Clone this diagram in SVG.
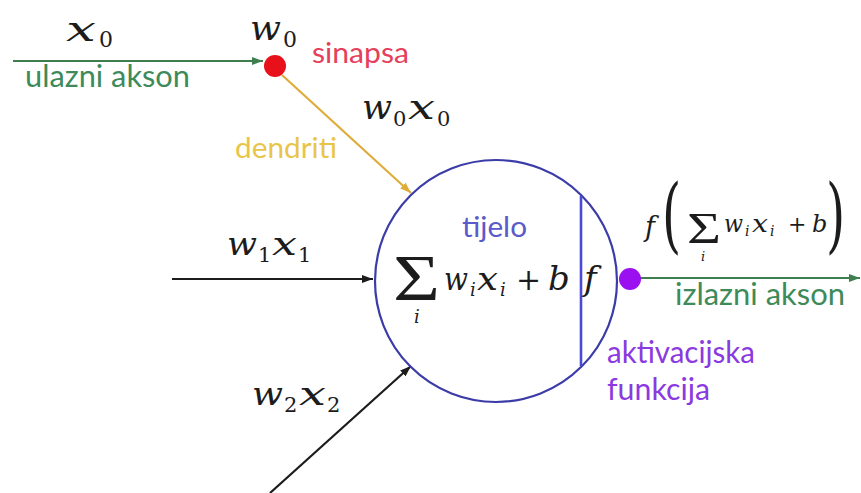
<svg xmlns="http://www.w3.org/2000/svg" width="861" height="493" viewBox="0 0 861 493">
<style>
.m{font-family:"DejaVu Serif","Liberation Serif",serif;font-style:italic;fill:#1c1c1c}
.u{font-style:normal}
.lab{font-family:Lato,"Open Sans","Liberation Sans",sans-serif}
.conn{fill:none;stroke-width:2.2}
</style>
<defs>
<marker id="ag" markerUnits="userSpaceOnUse" markerWidth="11" markerHeight="8" refX="11" refY="4" orient="auto"><path d="M0,0 L11,4 L0,8 z" fill="#3f7f4f"/></marker>
<marker id="ay" markerUnits="userSpaceOnUse" markerWidth="11" markerHeight="8" refX="11" refY="4" orient="auto"><path d="M0,0 L11,4 L0,8 z" fill="#dfac3a"/></marker>
<marker id="ak" markerUnits="userSpaceOnUse" markerWidth="11" markerHeight="8" refX="11" refY="4" orient="auto"><path d="M0,0 L11,4 L0,8 z" fill="#1c1c1c"/></marker>
</defs>
<rect width="861" height="493" fill="#ffffff"/>

<g id="connectors">
<line class="conn" x1="13" y1="61" x2="263" y2="61" stroke="#3f7f4f" marker-end="url(#ag)"/>
<line class="conn" x1="282" y1="75" x2="411" y2="193" stroke="#dfac3a" marker-end="url(#ay)"/>
<line class="conn" x1="172" y1="279" x2="373" y2="279" stroke="#1c1c1c" marker-end="url(#ak)"/>
<line class="conn" x1="270" y1="493" x2="411" y2="366" stroke="#1c1c1c" marker-end="url(#ak)"/>
<line class="conn" x1="640" y1="278" x2="860" y2="278" stroke="#3f7f4f" marker-end="url(#ag)"/>
</g>

<g id="input-x0">
<text class="m" font-size="34"><tspan x="66" y="41" textLength="30" lengthAdjust="spacingAndGlyphs">x</tspan><tspan class="u" x="99" y="47" font-size="22">0</tspan></text>
<text class="lab" x="25" y="87" font-size="30" fill="#3d8a5a" textLength="165" lengthAdjust="spacingAndGlyphs">ulazni akson</text>
</g>

<g id="synapse">
<circle cx="275" cy="66" r="11" fill="#e8101a"/>
<text class="m" font-size="34"><tspan x="250" y="40" textLength="31" lengthAdjust="spacingAndGlyphs">w</tspan><tspan class="u" x="283" y="47" font-size="22">0</tspan></text>
<text class="lab" x="312" y="63" font-size="29" fill="#e5405a" textLength="97" lengthAdjust="spacingAndGlyphs">sinapsa</text>
</g>

<g id="dendrite-label">
<text class="m" font-size="34"><tspan x="362" y="119" textLength="30" lengthAdjust="spacingAndGlyphs">w</tspan><tspan class="u" x="393" y="126" font-size="21">0</tspan><tspan x="408" y="119" textLength="27" lengthAdjust="spacingAndGlyphs">x</tspan><tspan class="u" x="437" y="126" font-size="21">0</tspan></text>
<text class="lab" x="235" y="158" font-size="29" fill="#e8c548" textLength="102" lengthAdjust="spacingAndGlyphs">dendriti</text>
</g>

<g id="input-x1">
<text class="m" font-size="32"><tspan x="227" y="255" textLength="30" lengthAdjust="spacingAndGlyphs">w</tspan><tspan class="u" x="258" y="262" font-size="21">1</tspan><tspan x="272" y="255" textLength="25" lengthAdjust="spacingAndGlyphs">x</tspan><tspan class="u" x="298" y="262" font-size="21">1</tspan></text>
</g>

<g id="input-x2">
<text class="m" font-size="32"><tspan x="252" y="405" textLength="31" lengthAdjust="spacingAndGlyphs">w</tspan><tspan class="u" x="284" y="412" font-size="21">2</tspan><tspan x="299" y="405" textLength="27" lengthAdjust="spacingAndGlyphs">x</tspan><tspan class="u" x="327" y="412" font-size="21">2</tspan></text>
</g>

<g id="soma">
<circle cx="496" cy="281" r="121" fill="none" stroke="#3c3ca8" stroke-width="2.2"/>
<line x1="581" y1="196" x2="581" y2="366" stroke="#4a4ad8" stroke-width="2.6"/>
<text class="lab" x="462" y="237" font-size="29" fill="#5a5ac8" textLength="65" lengthAdjust="spacingAndGlyphs">tijelo</text>
<text class="m" font-size="32"><tspan class="u" x="393" y="300" font-size="66" font-family="Liberation Serif" textLength="47" lengthAdjust="spacingAndGlyphs">Σ</tspan><tspan x="414" y="323" font-size="18">i</tspan><tspan x="444" y="290" textLength="24" lengthAdjust="spacingAndGlyphs">w</tspan><tspan x="470" y="296" font-size="18">i</tspan><tspan x="477" y="290" textLength="21" lengthAdjust="spacingAndGlyphs">x</tspan><tspan x="500" y="296" font-size="18">i</tspan><tspan class="u" x="516" y="290" font-size="30">+</tspan><tspan x="548" y="290" font-size="34">b</tspan></text>
<text class="m" x="584" y="290" font-size="34">f</text>
</g>

<g id="activation">
<circle cx="630" cy="279" r="11" fill="#9b10f0"/>
<text class="lab" x="607" y="363" font-size="30" fill="#8a3ae0" textLength="148" lengthAdjust="spacingAndGlyphs">aktivacijska</text>
<text class="lab" x="607" y="400" font-size="30" fill="#8a3ae0" textLength="103" lengthAdjust="spacingAndGlyphs">funkcija</text>
</g>

<g id="output">
<text class="m" x="645" y="236" font-size="27">f</text>
<text class="m u" font-size="82" font-family="Liberation Serif" transform="translate(662,243) scale(0.6,1)">(</text>
<text class="m" font-size="24"><tspan class="u" x="687" y="243" font-size="45" font-family="Liberation Serif" textLength="34" lengthAdjust="spacingAndGlyphs">Σ</tspan><tspan x="701" y="261" font-size="13">i</tspan><tspan x="724" y="232" textLength="19" lengthAdjust="spacingAndGlyphs">w</tspan><tspan x="745" y="236" font-size="14">i</tspan><tspan x="752" y="232" textLength="16" lengthAdjust="spacingAndGlyphs">x</tspan><tspan x="770" y="236" font-size="14">i</tspan><tspan class="u" x="788" y="232" font-size="22">+</tspan><tspan x="812" y="232">b</tspan></text>
<text class="m u" font-size="82" font-family="Liberation Serif" transform="translate(826,243) scale(0.6,1)">)</text>
<text class="lab" x="675" y="305" font-size="30" fill="#3d8a5a" textLength="170" lengthAdjust="spacingAndGlyphs">izlazni akson</text>
</g>
</svg>
